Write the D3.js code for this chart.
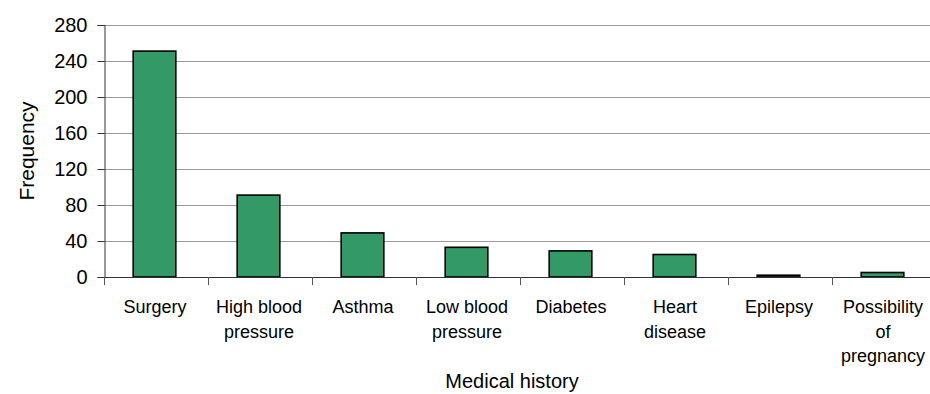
<!DOCTYPE html>
<html>
<head>
<meta charset="utf-8">
<script src="https://cdn.jsdelivr.net/npm/d3@7"></script>
<style>
  html, body { margin: 0; padding: 0; background: #fff; }
  svg { display: block; }
  text { font-family: "Liberation Sans", Arial, sans-serif; fill: #000; }
</style>
</head>
<body>
<svg id="chart" width="930" height="394"></svg>
<script>
// Medical history categories (multi-line labels split on "|")
const categories = [
  "Surgery",
  "High blood|pressure",
  "Asthma",
  "Low blood|pressure",
  "Diabetes",
  "Heart|disease",
  "Epilepsy",
  "Possibility|of|pregnancy"
];
const frequencies = [251, 91, 49, 33, 29, 25, 2, 5];
const yTicks = [0, 40, 80, 120, 160, 200, 240, 280];

const svg = d3.select("#chart");
const plotLeft = 104, plotRight = 936, plotTop = 25, plotBottom = 277;

const x = d3.scaleBand().domain(categories).range([plotLeft, plotRight]);
const y = d3.scaleLinear().domain([0, 280]).range([plotBottom, plotTop]);

// Horizontal gridlines
svg.append("g")
  .selectAll("line")
  .data(yTicks.filter(d => d > 0))
  .join("line")
  .attr("x1", plotLeft).attr("x2", 930)
  .attr("y1", d => Math.round(y(d)) + 0.5)
  .attr("y2", d => Math.round(y(d)) + 0.5)
  .attr("stroke", "#9a9a9a")
  .attr("stroke-width", 1);

// Bars
const barW = x.bandwidth() * 0.41;
svg.append("g")
  .selectAll("rect")
  .data(categories.map((c, i) => ({ c, v: frequencies[i] })))
  .join("rect")
  .attr("x", d => x(d.c) + (x.bandwidth() - barW) / 2 - 1.5)
  .attr("y", d => y(d.v))
  .attr("width", barW)
  .attr("height", d => y(0) - y(d.v))
  .attr("fill", "#339966")
  .attr("stroke", "#000")
  .attr("stroke-width", 1.6);

// Y axis
const yAxis = d3.axisLeft(y).tickValues(yTicks).tickSize(7).tickPadding(10);
const gy = svg.append("g")
  .attr("transform", `translate(${plotLeft + 0.5},0)`)
  .call(yAxis);
gy.select(".domain").attr("stroke", "#333");
gy.selectAll(".tick line").attr("stroke", "#333");
gy.selectAll(".tick text")
  .style("font-size", "20px")
  .style("font-family", "'Liberation Sans', Arial, sans-serif");

// X axis: baseline plus ticks at category boundaries
svg.append("line")
  .attr("x1", plotLeft).attr("x2", 930)
  .attr("y1", plotBottom + 0.5).attr("y2", plotBottom + 0.5)
  .attr("stroke", "#333");
svg.append("g")
  .selectAll("line")
  .data(categories.map(c => x(c)))
  .join("line")
  .attr("x1", d => Math.round(d) + 0.5).attr("x2", d => Math.round(d) + 0.5)
  .attr("y1", plotBottom).attr("y2", plotBottom + 8)
  .attr("stroke", "#555");

// Category labels
const labels = svg.append("g")
  .selectAll("text")
  .data(categories)
  .join("text")
  .attr("text-anchor", "middle")
  .attr("x", d => x(d) + x.bandwidth() / 2 - 1)
  .attr("y", 313)
  .style("font-size", "18px");
labels.selectAll("tspan")
  .data(d => d.split("|").map((t, i) => ({ t, i, d })))
  .join("tspan")
  .attr("x", d => x(d.d) + x.bandwidth() / 2 - 1)
  .attr("dy", d => d.i === 0 ? 0 : 24.5)
  .text(d => d.t);

// Axis titles
svg.append("text")
  .attr("x", 512).attr("y", 388)
  .attr("text-anchor", "middle")
  .style("font-size", "20px")
  .text("Medical history");

svg.append("text")
  .attr("transform", "translate(34,151) rotate(-90)")
  .attr("text-anchor", "middle")
  .style("font-size", "21px")
  .text("Frequency");
</script>
</body>
</html>
